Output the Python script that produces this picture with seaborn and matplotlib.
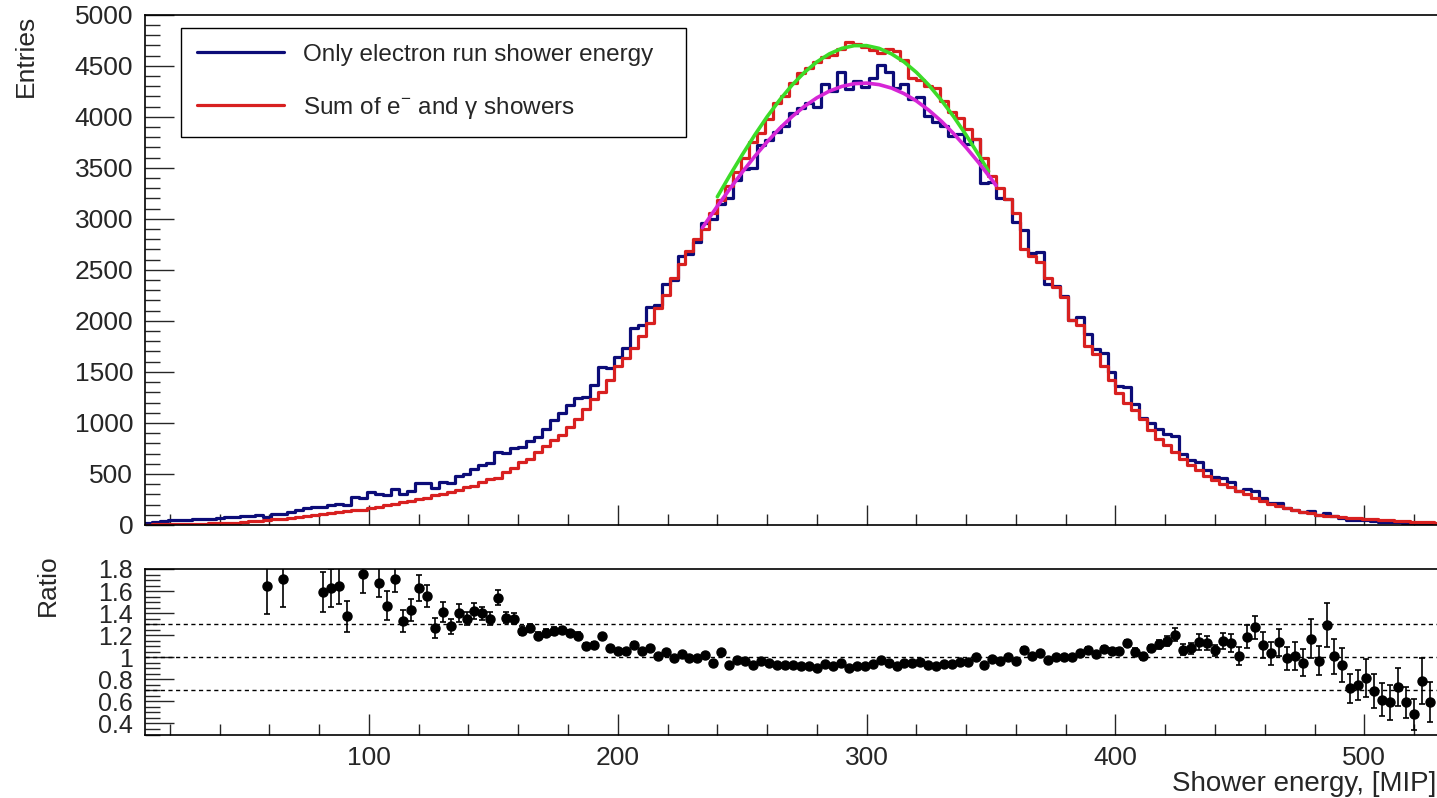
import numpy as np
import pandas as pd
import matplotlib
matplotlib.use("Agg")
import matplotlib.pyplot as plt
import seaborn as sns
from matplotlib.lines import Line2D
from matplotlib.ticker import MultipleLocator

# ---- data -------------------------------------------------------------
# 3.2 MIP wide bins, 163 bins from 9.6 to 531.2 MIP
bin_edges = np.arange(9.6, 531.3, 3.2)
bin_centers = bin_edges[:-1] + 1.6

electron_counts = [
    22, 30, 40, 45, 48, 45, 55, 60, 58, 70,
    78, 75, 85, 92, 95, 82, 110, 103, 130, 150,
    165, 180, 178, 192, 206, 192, 270, 263, 320, 302,
    294, 350, 299, 336, 408, 408, 367, 423, 410, 483,
    500, 547, 588, 608, 716, 707, 756, 769, 822, 862,
    937, 1025, 1097, 1171, 1245, 1254, 1371, 1547, 1534, 1647,
    1735, 1929, 1957, 2138, 2153, 2363, 2396, 2637, 2653, 2772,
    2958, 3000, 3150, 3200, 3377, 3492, 3495, 3725, 3771, 3849,
    3914, 4036, 4089, 4135, 4100, 4319, 4255, 4436, 4271, 4347,
    4292, 4376, 4509, 4436, 4283, 4318, 4170, 4190, 4008, 3950,
    3905, 3811, 3834, 3729, 3780, 3355, 3358, 3201, 3190, 2968,
    2889, 2669, 2670, 2362, 2342, 2241, 2010, 2040, 1873, 1729,
    1683, 1502, 1365, 1355, 1187, 1051, 1004, 938, 895, 868,
    696, 637, 615, 542, 468, 459, 418, 334, 356, 330,
    266, 217, 211, 164, 147, 124, 134, 97, 119, 86,
    73, 52, 49, 48, 39, 31, 27, 31, 23, 16,
    24, 15, 14,
]

sum_counts = [
    4, 6, 8, 10, 9, 12, 14, 13, 16, 18,
    20, 24, 28, 35, 42, 50, 55, 60, 70, 80,
    88, 98, 112, 118, 125, 140, 145, 150, 170, 180,
    200, 205, 225, 235, 250, 262, 290, 300, 320, 345,
    370, 385, 420, 450, 465, 520, 560, 620, 650, 720,
    770, 830, 880, 960, 1040, 1140, 1230, 1300, 1420, 1560,
    1640, 1730, 1850, 1980, 2130, 2250, 2420, 2560, 2680, 2800,
    2900, 3060, 3180, 3320, 3460, 3600, 3750, 3840, 3980, 4130,
    4200, 4330, 4430, 4480, 4540, 4590, 4610, 4660, 4730, 4710,
    4680, 4650, 4620, 4660, 4640, 4560, 4380, 4360, 4300, 4280,
    4150, 4050, 3990, 3880, 3780, 3600, 3420, 3300, 3190, 3060,
    2700, 2640, 2580, 2420, 2330, 2230, 2010, 1960, 1750, 1680,
    1560, 1420, 1290, 1200, 1130, 1040, 930, 840, 780, 720,
    650, 590, 540, 480, 440, 400, 370, 330, 300, 260,
    240, 210, 185, 165, 145, 130, 115, 100, 92, 85,
    78, 72, 66, 60, 56, 50, 46, 42, 38, 34,
    30, 26, 23,
]

nan = np.nan
ratio = [
    nan, nan, nan, nan, nan, nan, nan, nan, nan, nan,
    nan, nan, nan, nan, nan, 1.644, nan, 1.71, nan, nan,
    nan, nan, 1.59, 1.63, 1.65, 1.37, nan, 1.755, nan, 1.676,
    1.468, 1.71, 1.33, 1.43, 1.63, 1.556, 1.265, 1.41, 1.28, 1.40,
    1.35, 1.42, 1.40, 1.35, 1.54, 1.36, 1.35, 1.24, 1.265, 1.197,
    1.217, 1.235, 1.247, 1.22, 1.197, 1.10, 1.115, 1.19, 1.08, 1.056,
    1.058, 1.115, 1.058, 1.08, 1.011, 1.05, 0.99, 1.03, 0.99, 0.99,
    1.02, 0.947, 1.045, 0.932, 0.976, 0.97, 0.932, 0.97, 0.947, 0.932,
    0.932, 0.932, 0.923, 0.923, 0.903, 0.941, 0.923, 0.952, 0.903, 0.923,
    0.917, 0.941, 0.976, 0.952, 0.923, 0.947, 0.952, 0.961, 0.932, 0.923,
    0.941, 0.941, 0.961, 0.961, 1.0, 0.932, 0.982, 0.97, 1.0, 0.97,
    1.07, 1.011, 1.035, 0.976, 1.005, 1.005, 1.0, 1.041, 1.07, 1.029,
    1.079, 1.058, 1.058, 1.129, 1.05, 1.011, 1.08, 1.117, 1.147, 1.206,
    1.07, 1.08, 1.138, 1.129, 1.064, 1.147, 1.129, 1.011, 1.188, 1.27,
    1.109, 1.035, 1.138, 0.991, 1.011, 0.952, 1.168, 0.97, 1.294, 1.011,
    0.932, 0.717, 0.747, 0.808, 0.697, 0.617, 0.594, 0.732, 0.594, 0.482,
    0.785, 0.594, nan,
]

ratio_err = [
    0, 0, 0, 0, 0, 0, 0, 0, 0, 0,
    0, 0, 0, 0, 0, 0.25, 0, 0.25, 0, 0,
    0, 0, 0.18, 0.17, 0.17, 0.14, 0, 0.17, 0, 0.13,
    0.13, 0.12, 0.10, 0.10, 0.12, 0.10, 0.09, 0.09, 0.07, 0.08,
    0.06, 0.07, 0.06, 0.06, 0.07, 0.05, 0.05, 0.04, 0.04, 0.035,
    0.035, 0.035, 0.03, 0.03, 0.03, 0.025, 0.025, 0.025, 0.02, 0.02,
    0.02, 0.02, 0.02, 0.02, 0.02, 0.02, 0.02, 0.02, 0.02, 0.02,
    0.018, 0.018, 0.018, 0.018, 0.018, 0.018, 0.018, 0.018, 0.018, 0.018,
    0.016, 0.016, 0.016, 0.016, 0.016, 0.016, 0.016, 0.016, 0.016, 0.016,
    0.016, 0.016, 0.016, 0.016, 0.016, 0.016, 0.016, 0.016, 0.016, 0.016,
    0.018, 0.018, 0.018, 0.018, 0.018, 0.018, 0.018, 0.018, 0.018, 0.018,
    0.02, 0.02, 0.02, 0.02, 0.02, 0.02, 0.02, 0.02, 0.02, 0.02,
    0.025, 0.025, 0.028, 0.03, 0.03, 0.032, 0.035, 0.04, 0.045, 0.062,
    0.049, 0.049, 0.076, 0.06, 0.05, 0.075, 0.078, 0.078, 0.10, 0.103,
    0.118, 0.103, 0.122, 0.106, 0.125, 0.122, 0.176, 0.132, 0.20, 0.159,
    0.154, 0.128, 0.137, 0.172, 0.154, 0.147, 0.159, 0.174, 0.14, 0.14,
    0.206, 0.184, 0,
]

# gaussian fits
fit_sum_x = [240, 245, 250, 255, 260, 265, 270, 275, 280, 285, 290, 295,
             300, 305, 310, 315, 320, 325, 330, 335, 340, 345, 349]
fit_sum_y = [3216, 3425, 3627, 3820, 4000, 4163, 4310, 4435, 4538, 4616, 4670, 4697,
             4697, 4670, 4616, 4538, 4435, 4310, 4163, 4000, 3820, 3627, 3466]
fit_el_x = [234, 240, 245, 250, 255, 260, 265, 270, 275, 280, 285, 290, 295,
            300, 305, 310, 315, 320, 325, 330, 335, 340, 345, 350, 352]
fit_el_y = [2913, 3124, 3293, 3457, 3611, 3754, 3885, 4001, 4102, 4186, 4251, 4297, 4324,
            4330, 4315, 4281, 4227, 4155, 4064, 3957, 3834, 3698, 3551, 3393, 3327]

legend_labels = ["Only electron run shower energy", "Sum of e$^{-}$ and \u03b3 showers"]
ratio_lines = [0.7, 1.0, 1.3]
ratio_ticks = [0.4, 0.6, 0.8, 1.0, 1.2, 1.4, 1.6, 1.8]
ratio_tick_labels = ["0.4", "0.6", "0.8", "1", "1.2", "1.4", "1.6", "1.8"]

BLUE = "#0c0c78"
RED = "#d82020"
GREEN = "#3cdc28"
MAGENTA = "#d626d6"

hist_df = pd.DataFrame({"energy": bin_centers,
                        "electron": electron_counts,
                        "sum": sum_counts})

# ---- plot -------------------------------------------------------------
sns.set_style("ticks")
plt.rcParams["font.family"] = ["Liberation Sans", "DejaVu Sans"]
plt.rcParams["mathtext.fontset"] = "custom"
plt.rcParams["mathtext.rm"] = "Liberation Sans"

W, H = 1437, 798
fig = plt.figure(figsize=(W / 100, H / 100), dpi=100)
ax = fig.add_axes([145 / W, 273 / H, 1292 / W, 510.3 / H])
rax = fig.add_axes([145 / W, 63.5 / H, 1292 / W, 165.5 / H])

edges = list(bin_edges)
sns.histplot(data=hist_df, x="energy", weights="electron", bins=edges, element="step",
             fill=False, color=BLUE, linewidth=2.3, ax=ax)
sns.histplot(data=hist_df, x="energy", weights="sum", bins=edges, element="step",
             fill=False, color=RED, linewidth=2.3, ax=ax)
sns.lineplot(x=fit_sum_x, y=fit_sum_y, color=GREEN, linewidth=2.6, ax=ax)
sns.lineplot(x=fit_el_x, y=fit_el_y, color=MAGENTA, linewidth=2.6, ax=ax)

ax.set_xlim(10, 529.2)
ax.set_ylim(0, 5000)
ax.set_xlabel("")
ax.set_ylabel("Entries", fontsize=19, loc="top")
ax.yaxis.set_label_coords(-0.083, 1.0)
ax.xaxis.set_major_locator(MultipleLocator(100))
ax.xaxis.set_minor_locator(MultipleLocator(20))
ax.yaxis.set_major_locator(MultipleLocator(500))
ax.yaxis.set_minor_locator(MultipleLocator(100))
ax.tick_params(axis="x", which="both", direction="in", labelbottom=False, width=1)
ax.tick_params(axis="x", which="major", length=14.5)
ax.tick_params(axis="x", which="minor", length=8)
ax.tick_params(axis="y", which="both", direction="in", width=1, labelsize=19, pad=8.5)
ax.tick_params(axis="y", which="major", length=21)
ax.tick_params(axis="y", which="minor", length=11)

handles = [Line2D([], [], color=BLUE, lw=2.3), Line2D([], [], color=RED, lw=2.3)]
leg = ax.legend(handles, legend_labels, loc="upper left",
                bbox_to_anchor=(0.0279, 0.766, 0.3908, 0.208), mode="expand",
                fontsize=17.5, frameon=True, fancybox=False, edgecolor="black",
                framealpha=1, handlelength=3.6, handletextpad=0.75,
                labelspacing=1.2, borderpad=0.65, borderaxespad=0)
leg.get_frame().set_linewidth(1.0)

# ratio panel
for lvl in ratio_lines:
    rax.axhline(lvl, color="black", linewidth=1, linestyle=(0, (3, 2.5)))
rax.errorbar(bin_centers, ratio, yerr=ratio_err, fmt="o", color="black",
             markersize=6.5, elinewidth=1.2, capsize=2.5, capthick=1.2)

rax.set_xlim(10, 529.2)
rax.set_ylim(0.3, 1.8)
rax.set_yticks(ratio_ticks, ratio_tick_labels)
rax.yaxis.set_minor_locator(MultipleLocator(0.05))
rax.xaxis.set_major_locator(MultipleLocator(100))
rax.xaxis.set_minor_locator(MultipleLocator(20))
rax.tick_params(axis="x", which="both", direction="in", width=1, labelsize=19, pad=8)
rax.tick_params(axis="x", which="major", length=15)
rax.tick_params(axis="x", which="minor", length=8)
rax.tick_params(axis="y", which="both", direction="in", width=1, labelsize=18, pad=8.5)
rax.tick_params(axis="y", which="major", length=21)
rax.tick_params(axis="y", which="minor", length=10.5)
rax.set_ylabel("Ratio", fontsize=19, loc="top")
rax.yaxis.set_label_coords(-0.066, 1.09)
rax.set_xlabel("Shower energy, [MIP]", fontsize=20, loc="right")
rax.xaxis.set_label_coords(0.9995, -0.22)

for a in (ax, rax):
    a.spines["right"].set_visible(False)
    for s in ("left", "top", "bottom"):
        a.spines[s].set_linewidth(1.2)
        a.spines[s].set_color("black")

fig.savefig("out.png", dpi=100)
